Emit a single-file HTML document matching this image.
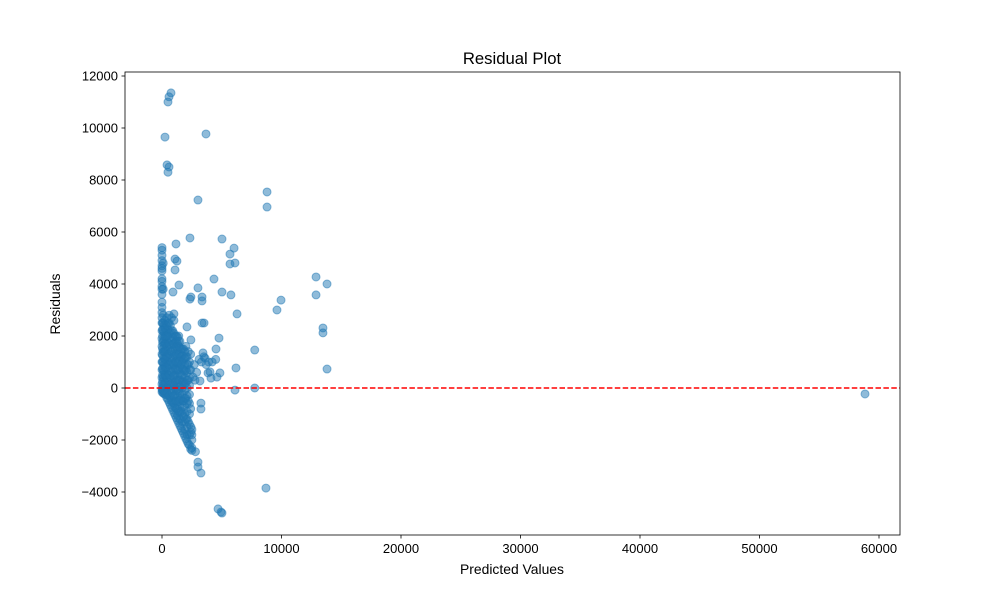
<!DOCTYPE html>
<html><head><meta charset="utf-8"><style>
body{margin:0;background:#fff}
svg text{font-family:"Liberation Sans","DejaVu Sans",sans-serif;fill:#000}
</style></head><body>
<svg id="chart" width="1000" height="600" viewBox="0 0 1000 600">
<rect width="1000" height="600" fill="#fff"/>
<text x="512" y="64" font-size="16.7" text-anchor="middle">Residual Plot</text>
<text x="512" y="574" font-size="13.9" text-anchor="middle">Predicted Values</text>
<text x="60" y="304" font-size="13.9" text-anchor="middle" transform="rotate(-90 60 304)">Residuals</text>
<g id="pts"></g>
<g id="axes"></g>
</svg>
<script>
const xTicks=[0,10000,20000,30000,40000,50000,60000];
const yTicks=[-4000,-2000,0,2000,4000,6000,8000,10000,12000];
const predicted=[753,586,500,250,3680,420,586,500,3010,8790,8790,2340,5020,1170,6030,5690,5690,6110,1090,1250,1090,12890,13810,4350,1420,3010,920,5020,5770,12890,3350,3350,2340,2420,9960,9620,6280,1000,3520,3350,2090,13470,13470,4770,13810,2420,3430,3600,4520,7760,4100,4600,6190,4850,3850,4020,6110,7760,3180,2760,2590,3260,3260,2420,2420,3010,3010,3260,8700,4690,4940,5020,58830,
0,0,0,0,0,0,0,0,0,0,0,0,0,0,0,0,0,0,0,0,0,0,0,0,0,0,0,
100,100,100,100,100,100,100,100,100,100,100,100,100,100,
250,250,250,250,250,250,250,250,250,250,250,
400,400,400,400,400,400,400,400,400,400,
600,600,600,600,600,600,600,600,600,600,
800,800,800,800,800,800,800,800,800,800,
1000,1000,1000,1000,1000,1000,1000,1000,1000,1000,
1200,1200,1200,1200,1200,1200,1200,1200,1200,1200,1200,
1400,1400,1400,1400,1400,1400,1400,1400,1400,1400,1400,
1600,1600,1600,1600,1600,1600,1600,1600,
1800,1800,1800,1800,1800,1800,1800,
2000,2000,2000,2000,2000,2000,2000,
2200,2200,2200,2200,2200,2200,
2400,2400,2400,2400,2500,2500,2700,2800,2900,3100,3300,3500,3700,3900,4200,4500];
const residuals=[11350,11200,11000,9650,9770,8580,8500,8300,7230,7540,6960,5770,5730,5540,5380,5150,4770,4810,4960,4880,4540,4270,4000,4190,3960,3850,3690,3690,3580,3580,3500,3350,3420,3500,3380,3000,2850,2850,2500,2500,2350,2310,2120,1920,730,1850,1350,1150,1500,1460,380,420,770,580,580,620,-80,0,270,300,420,-580,-810,-1700,-1500,-2850,-3040,-3270,-3850,-4650,-4770,-4810,-230,
5400,5300,5100,4900,4700,4600,4500,4200,4100,3900,3800,3600,3300,3100,2900,2700,2500,2200,1900,1600,1300,1000,700,400,150,-50,-150,
4800,3800,2800,2500,2200,1800,1400,1000,700,400,100,-100,-200,-100,
2600,2300,2000,1700,1400,1100,800,500,200,-150,-250,
2700,2400,2000,1600,1200,800,400,0,-200,-380,
2800,2500,2100,1700,1300,900,500,100,-300,-550,
2700,2200,1800,1400,1000,600,200,-200,-500,-750,
2600,2100,1700,1300,900,500,100,-300,-600,-950,
2000,1800,1600,1300,1000,700,300,-100,-500,-800,-1150,
2000,1800,1600,1300,1000,700,300,-100,-500,-900,-1350,
1500,1200,900,500,100,-400,-900,-1550,
1500,1100,700,200,-500,-1100,-1750,
1600,1200,700,200,-400,-1200,-1950,
1400,900,300,-500,-1300,-2150,
1300,700,-800,-2350,-2400,-1800,900,-2450,600,1100,1000,1200,900,1000,1000,1100];
const densePredicted=[50,50,50,50,50,50,50,50,50,50,50,50,
150,150,150,150,150,150,150,150,150,150,150,150,
300,300,300,300,300,300,300,300,300,300,300,300,
500,500,500,500,500,500,500,500,500,500,500,500,500,
700,700,700,700,700,700,700,700,700,700,700,700,700,
900,900,900,900,900,900,900,900,900,900,900,900,900,
1100,1100,1100,1100,1100,1100,1100,1100,1100,1100,1100,1100,1100,
1300,1300,1300,1300,1300,1300,1300,1300,1300,1300,1300,1300,1300,1300,
1500,1500,1500,1500,1500,1500,1500,1500,1500,1500,1500,1500,1500,1500,
1700,1700,1700,1700,1700,1700,1700,1700,1700,1700,1700,1700,1700,
1900,1900,1900,1900,1900,1900,1900,1900,1900,1900,1900,1900,1900,
2100,2100,2100,2100,2100,2100,2100,2100,2100,2100,2100,2100,
2300,2300,2300,2300,2300,2300,2300,2300,2300,2300,
2500,2500,2500];
const denseResiduals=[2500,2250,2000,1750,1500,1250,1000,750,500,250,0,-100,
2400,2150,1900,1650,1400,1150,900,650,400,150,-100,-200,
2450,2200,1950,1700,1450,1200,950,700,450,200,-50,-250,
2500,2250,2000,1750,1500,1250,1000,750,500,250,0,-250,-450,
2400,2150,1900,1650,1400,1150,900,650,400,150,-100,-350,-650,
2200,1950,1700,1450,1200,950,700,450,200,-50,-300,-550,-850,
2000,1750,1500,1250,1000,750,500,250,0,-250,-500,-750,-1050,
1950,1700,1450,1200,950,700,450,200,-50,-300,-550,-800,-1050,-1250,
1800,1550,1300,1050,800,550,300,50,-200,-450,-700,-950,-1200,-1450,
1500,1250,1000,750,500,250,0,-250,-500,-750,-1000,-1300,-1650,
1400,1150,900,650,400,150,-100,-400,-700,-1000,-1300,-1600,-1850,
1200,900,600,300,0,-300,-600,-900,-1200,-1500,-1800,-2050,
1000,700,400,100,-250,-600,-1000,-1400,-1800,-2200,
-1600,-2000,-2300];
const X0=125,X1=900,Y0=72,Y1=535;
const xs=v=>162+v*(879-162)/60000;
const ys=v=>388-v*(388-76)/12000;
const NS="http://www.w3.org/2000/svg";
const pts=document.getElementById('pts'),ax=document.getElementById('axes');
function dot(px,rv){
 const c=document.createElementNS(NS,'circle');
 c.setAttribute('cx',xs(px));c.setAttribute('cy',ys(rv));c.setAttribute('r',4);
 c.setAttribute('fill','#1f77b4');c.setAttribute('fill-opacity','0.5');
 c.setAttribute('stroke','#1f77b4');c.setAttribute('stroke-opacity','0.5');c.setAttribute('stroke-width','1');
 
 
 pts.appendChild(c);
}
for(let i=0;i<densePredicted.length;i++)dot(densePredicted[i],denseResiduals[i]);
for(let i=0;i<predicted.length;i++)dot(predicted[i],residuals[i]);
const zl=document.createElementNS(NS,'line');
zl.setAttribute('x1',X0);zl.setAttribute('x2',X1);zl.setAttribute('y1',ys(0));zl.setAttribute('y2',ys(0));
zl.setAttribute('stroke','#ff0000');zl.setAttribute('stroke-width','1.5');zl.setAttribute('stroke-dasharray','5.5,2.4');


ax.appendChild(zl);
const fr=document.createElementNS(NS,'rect');
fr.setAttribute('x',X0);fr.setAttribute('y',Y0);fr.setAttribute('width',X1-X0);fr.setAttribute('height',Y1-Y0);
fr.setAttribute('fill','none');fr.setAttribute('stroke','#000');fr.setAttribute('stroke-width','0.8');


ax.appendChild(fr);
xTicks.forEach(t=>{
 const x=xs(t);
 const l=document.createElementNS(NS,'line');
 l.setAttribute('x1',x);l.setAttribute('x2',x);l.setAttribute('y1',Y1);l.setAttribute('y2',Y1+3.5);l.setAttribute('stroke','#000');l.setAttribute('stroke-width','0.8');
 
 
 ax.appendChild(l);
 const tx=document.createElementNS(NS,'text');
 tx.setAttribute('x',x);tx.setAttribute('y',Y1+18);tx.setAttribute('font-size','13');tx.setAttribute('text-anchor','middle');
 tx.textContent=t;
 
 
 ax.appendChild(tx);
});
yTicks.forEach(t=>{
 const y=ys(t);
 const l=document.createElementNS(NS,'line');
 l.setAttribute('x1',X0-3.5);l.setAttribute('x2',X0);l.setAttribute('y1',y);l.setAttribute('y2',y);l.setAttribute('stroke','#000');l.setAttribute('stroke-width','0.8');
 
 
 ax.appendChild(l);
 const tx=document.createElementNS(NS,'text');
 tx.setAttribute('x',X0-7);tx.setAttribute('y',y+4.5);tx.setAttribute('font-size','13');tx.setAttribute('text-anchor','end');
 tx.textContent=t<0?'\u2212'+(-t):t;
 
 
 ax.appendChild(tx);
});
</script>
</body></html>
